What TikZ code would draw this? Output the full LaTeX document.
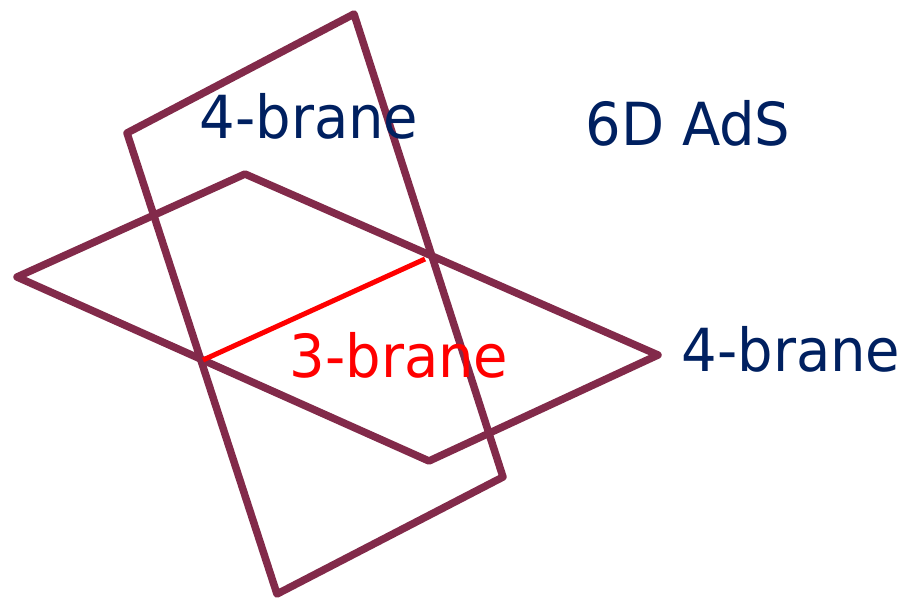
\documentclass[tikz,border=0pt]{standalone}
\usepackage{fontspec}
\setmainfont{DejaVu Sans}
\definecolor{braneline}{HTML}{822A4A}
\definecolor{navy}{HTML}{002060}
\definecolor{redline}{HTML}{FF0000}
\begin{document}
\begin{tikzpicture}[x=1pt,y=-1pt,
  brane/.style={draw=braneline,line width=7.5pt,line join=round},
  lbl/.style={anchor=base,inner sep=0pt,font=\fontsize{56}{60}\selectfont,text=navy,yscale=1.06},
  redlbl/.style={lbl,text=redline}]
\useasboundingbox (0,0) rectangle (903,598);
% tilted rectangle (4-brane)
\coordinate (r1) at (127,133);
\coordinate (r2) at (354,14);
\coordinate (r3) at (503,477);
\coordinate (r4) at (277,594);
% rhombus (4-brane)
\coordinate (h1) at (17,277);
\coordinate (h2) at (245,174);
\coordinate (h3) at (658,355);
\coordinate (h4) at (429,461);
% 3-brane ends
\coordinate (t1) at (203,360);
\coordinate (t2) at (425,259);
\draw[brane] (r1) -- (r2) -- (r3) -- (r4) -- cycle;
\draw[brane] (h1) -- (h2) -- (h3) -- (h4) -- cycle;
\draw[draw=redline,line width=5pt] (t1) -- (t2);
\node[lbl] (a) at (309,138) {4-brane};
\node[lbl] (b) at (688,145) {6D AdS};
\node[redlbl] (c) at (399,377) {3-brane};
\node[lbl] (d) at (791,371) {4-brane};
\end{tikzpicture}
\end{document}
